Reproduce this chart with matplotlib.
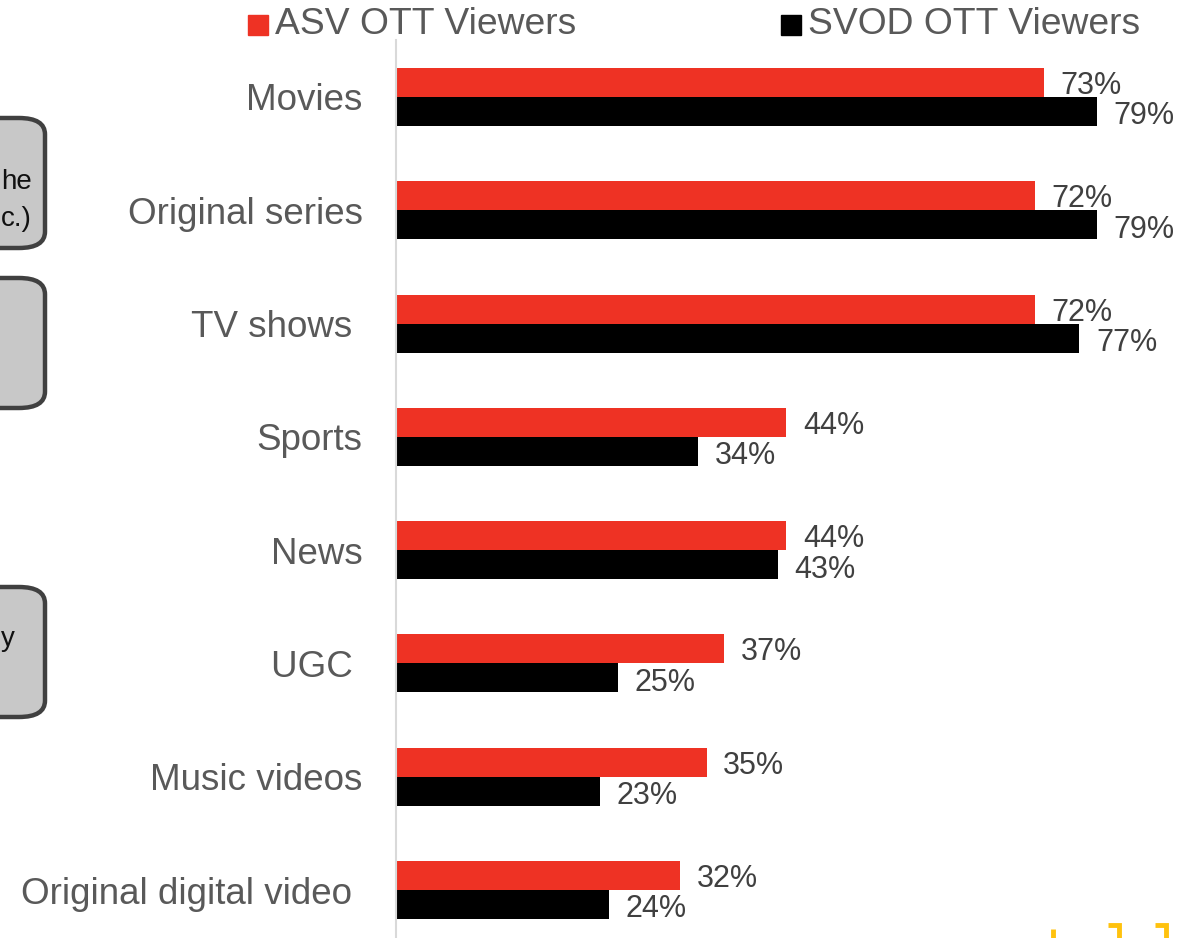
import matplotlib
matplotlib.use("Agg")
import matplotlib.pyplot as plt
from matplotlib.patches import FancyBboxPatch, Rectangle
from matplotlib.lines import Line2D

categories = ["Movies", "Original series", "TV shows ", "Sports", "News", "UGC ",
              "Music videos", "Original digital video "]
asv_values = [73, 72, 72, 44, 44, 37, 35, 32]
svod_values = [79, 79, 77, 34, 43, 25, 23, 24]
series_names = ["ASV OTT Viewers", "SVOD OTT Viewers"]

RED = "#EE3224"
BLACK = "#000000"
W, H = 1186, 938

plt.rcParams['font.family'] = ['Liberation Sans', 'DejaVu Sans']
fig = plt.figure(figsize=(W / 100, H / 100), dpi=100)

def fx(px):
    return px / W

def fy(py):
    return 1 - py / H

# axes: left at x=396 px, top y=40 px, bottom y=938 px
ax = fig.add_axes([fx(396), 0, fx(W - 396), fy(40)])
px_per_pct = (1097 - 396) / 79.0
ax.set_xlim(0, (W - 396) / px_per_pct)
unit = (890 - 97) / 7.0
ax.set_ylim(7 + (938 - 890) / unit, -(97 - 40) / unit)

bh = 29 / unit
ys = list(range(len(categories)))
ax.barh([y - bh / 2 for y in ys], asv_values, height=bh, color=RED, edgecolor='none')
ax.barh([y + bh / 2 for y in ys], svod_values, height=bh, color=BLACK, edgecolor='none')

for y, a, s in zip(ys, asv_values, svod_values):
    ax.annotate(f"{a}%", (a, y - bh / 2), xytext=(12, -2.5), textcoords='offset points',
                ha='left', va='center', fontsize=22, color='#404040')
    ax.annotate(f"{s}%", (s, y + bh / 2), xytext=(12, -3.5), textcoords='offset points',
                ha='left', va='center', fontsize=22, color='#404040')

ax.set_yticks(ys)
ax.set_yticklabels(categories, fontsize=26.5, color='#595959')
ax.tick_params(axis='y', length=0, pad=24)
ax.set_xticks([])
for sp in ['top', 'right', 'bottom']:
    ax.spines[sp].set_visible(False)
ax.spines['left'].set_color('#d9d9d9')
ax.spines['left'].set_linewidth(1.5)

# legend
fig.patches.append(Rectangle((fx(248), fy(35)), fx(20), 20 / H, transform=fig.transFigure,
                             color=RED, figure=fig))
fig.text(fx(275), fy(24), series_names[0], fontsize=26.8, color='#595959', va='center', ha='left')
fig.patches.append(Rectangle((fx(781), fy(35)), fx(20), 20 / H, transform=fig.transFigure,
                             color=BLACK, figure=fig))
fig.text(fx(808), fy(24), series_names[1], fontsize=26.8, color='#595959', va='center', ha='left')

# partially visible boxes at left edge
for top, bot in [(118, 248), (278, 408), (587, 717)]:
    box = FancyBboxPatch((fx(-200), fy(bot)), fx(245), (bot - top) / H,
                         boxstyle="round,pad=0,rounding_size=0.022",
                         transform=fig.transFigure, facecolor='#c8c8c8',
                         edgecolor='#404040', linewidth=3.2, figure=fig, mutation_aspect=H / W)
    fig.patches.append(box)
fig.text(fx(1), fy(189), "he", fontsize=20, ha='left', va='baseline', color='#111111')
fig.text(fx(1), fy(226), "c.)", fontsize=20, ha='left', va='baseline', color='#111111')
fig.text(fx(1), fy(646), "y", fontsize=20, ha='left', va='baseline', color='#111111')

# yellow marks bottom right
YEL = "#FFC20E"
fig.lines.append(Line2D([fx(1053), fx(1053)], [fy(929), fy(940)], transform=fig.transFigure,
                        color=YEL, linewidth=3.5, solid_capstyle='butt'))
for x0 in [1108, 1155]:
    fig.lines.append(Line2D([fx(x0), fx(x0 + 11), fx(x0 + 11)], [fy(925), fy(925), fy(940)],
                            transform=fig.transFigure, color=YEL, linewidth=3.5,
                            solid_capstyle='butt', solid_joinstyle='miter'))

fig.savefig("out.png", dpi=100)
